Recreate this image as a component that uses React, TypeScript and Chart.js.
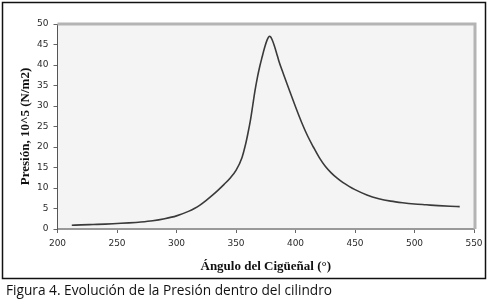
import React, { useEffect, useRef } from "react";
import { Chart, registerables } from "chart.js";

Chart.register(...registerables);

const angles = [212, 220, 230, 240, 250, 260, 270, 280, 290, 300, 310, 315, 320, 325, 330, 335, 340, 345, 350, 355, 358, 360, 362, 364, 366, 368, 370, 372, 374, 376, 377, 378, 379, 380, 382, 384, 386, 390, 395, 400, 405, 410, 415, 420, 425, 430, 435, 440, 445, 450, 460, 470, 480, 490, 500, 510, 520, 530, 538];
const pressure = [0.9, 1.0, 1.1, 1.2, 1.35, 1.5, 1.7, 2.0, 2.5, 3.2, 4.3, 5.0, 5.9, 7.0, 8.2, 9.5, 10.9, 12.4, 14.3, 17.4, 20.6, 23.3, 26.3, 30.0, 33.8, 37.0, 39.7, 42.0, 44.2, 46.0, 46.6, 47.0, 46.9, 46.4, 44.9, 43.0, 41.0, 37.7, 33.7, 29.8, 26.1, 22.8, 20.0, 17.4, 15.3, 13.7, 12.4, 11.3, 10.4, 9.6, 8.3, 7.4, 6.8, 6.4, 6.1, 5.9, 5.7, 5.55, 5.45];

const xTitle = "Ángulo del Cigüeñal (°)";
const yTitle = "Presión, 10^5 (N/m2)";
const caption = "Figura 4. Evolución de la Presión dentro del cilindro";

const framePlugin = {
  id: "frame",
  beforeDraw(chart: any) {
    const { ctx, chartArea: a } = chart;
    ctx.save();
    ctx.fillStyle = "#ffffff";
    ctx.fillRect(0, 0, chart.width, chart.height);
    ctx.fillStyle = "#f4f4f4";
    ctx.fillRect(a.left, a.top, a.right - a.left, a.bottom - a.top);
    ctx.restore();
  },
  afterDraw(chart: any) {
    const { ctx, chartArea: a } = chart;
    ctx.save();
    ctx.strokeStyle = "#b4b4b4";
    ctx.lineWidth = 3;
    ctx.beginPath();
    ctx.moveTo(a.left, a.top);
    ctx.lineTo(a.right + 1, a.top);
    ctx.lineTo(a.right + 1, a.bottom);
    ctx.stroke();
    ctx.strokeStyle = "#111";
    ctx.lineWidth = 1.5;
    ctx.strokeRect(2.5, 2.5, 483, 276);
    ctx.restore();
  },
};

export default function App() {
  const ref = useRef<HTMLCanvasElement>(null);
  useEffect(() => {
    const chart = new Chart(ref.current!, {
      type: "scatter",
      data: {
        datasets: [
          {
            data: angles.map((a, i) => ({ x: a, y: pressure[i] })),
            showLine: true,
            borderColor: "#3a3a3a",
            borderWidth: 1.6,
            pointRadius: 0,
            cubicInterpolationMode: "monotone",
          },
        ],
      },
      options: {
        responsive: false,
        animation: false,
        layout: { padding: { left: 3, right: 14, top: 24, bottom: 21 } },
        plugins: { legend: { display: false }, tooltip: { enabled: false } },
        scales: {
          x: {
            type: "linear",
            min: 200,
            max: 550,
            afterFit: (s: any) => { s.height = 50; },
            ticks: { stepSize: 50, color: "#2a2a2a", font: { family: "DejaVu Sans", size: 9 }, padding: 5 },
            grid: { drawOnChartArea: false, tickLength: 4, color: "#666" },
            border: { color: "#999", width: 2 },
            title: {
              display: true,
              text: xTitle,
              color: "#111",
              font: { family: "Liberation Serif", size: 13, weight: "bold" },
              padding: { top: 0, bottom: 5 },
            },
          },
          y: {
            min: 0,
            max: 50,
            afterFit: (s: any) => { s.width = 54.5; },
            ticks: { stepSize: 5, color: "#2a2a2a", font: { family: "DejaVu Sans", size: 9 }, padding: 5 },
            grid: { drawOnChartArea: false, tickLength: 4, color: "#666" },
            border: { color: "#555", width: 1 },
            title: {
              display: true,
              text: yTitle,
              color: "#111",
              font: { family: "Liberation Serif", size: 13, weight: "bold" },
              padding: { top: 15, bottom: 0 },
            },
          },
        },
      },
      plugins: [framePlugin],
    });
    return () => chart.destroy();
  }, []);
  return (
    <div style={{ position: "absolute", left: 0, top: 0, width: 488, height: 300, background: "#fff" }}>
      <canvas ref={ref} width={488} height={300} style={{ display: "block" }} />
      <div
        style={{
          position: "absolute",
          left: 6,
          top: 281,
          fontFamily: "'Open Sans', sans-serif",
          fontSize: 13.7,
          color: "#111",
          whiteSpace: "nowrap",
          lineHeight: "17px",
        }}
      >
        {caption}
      </div>
    </div>
  );
}
